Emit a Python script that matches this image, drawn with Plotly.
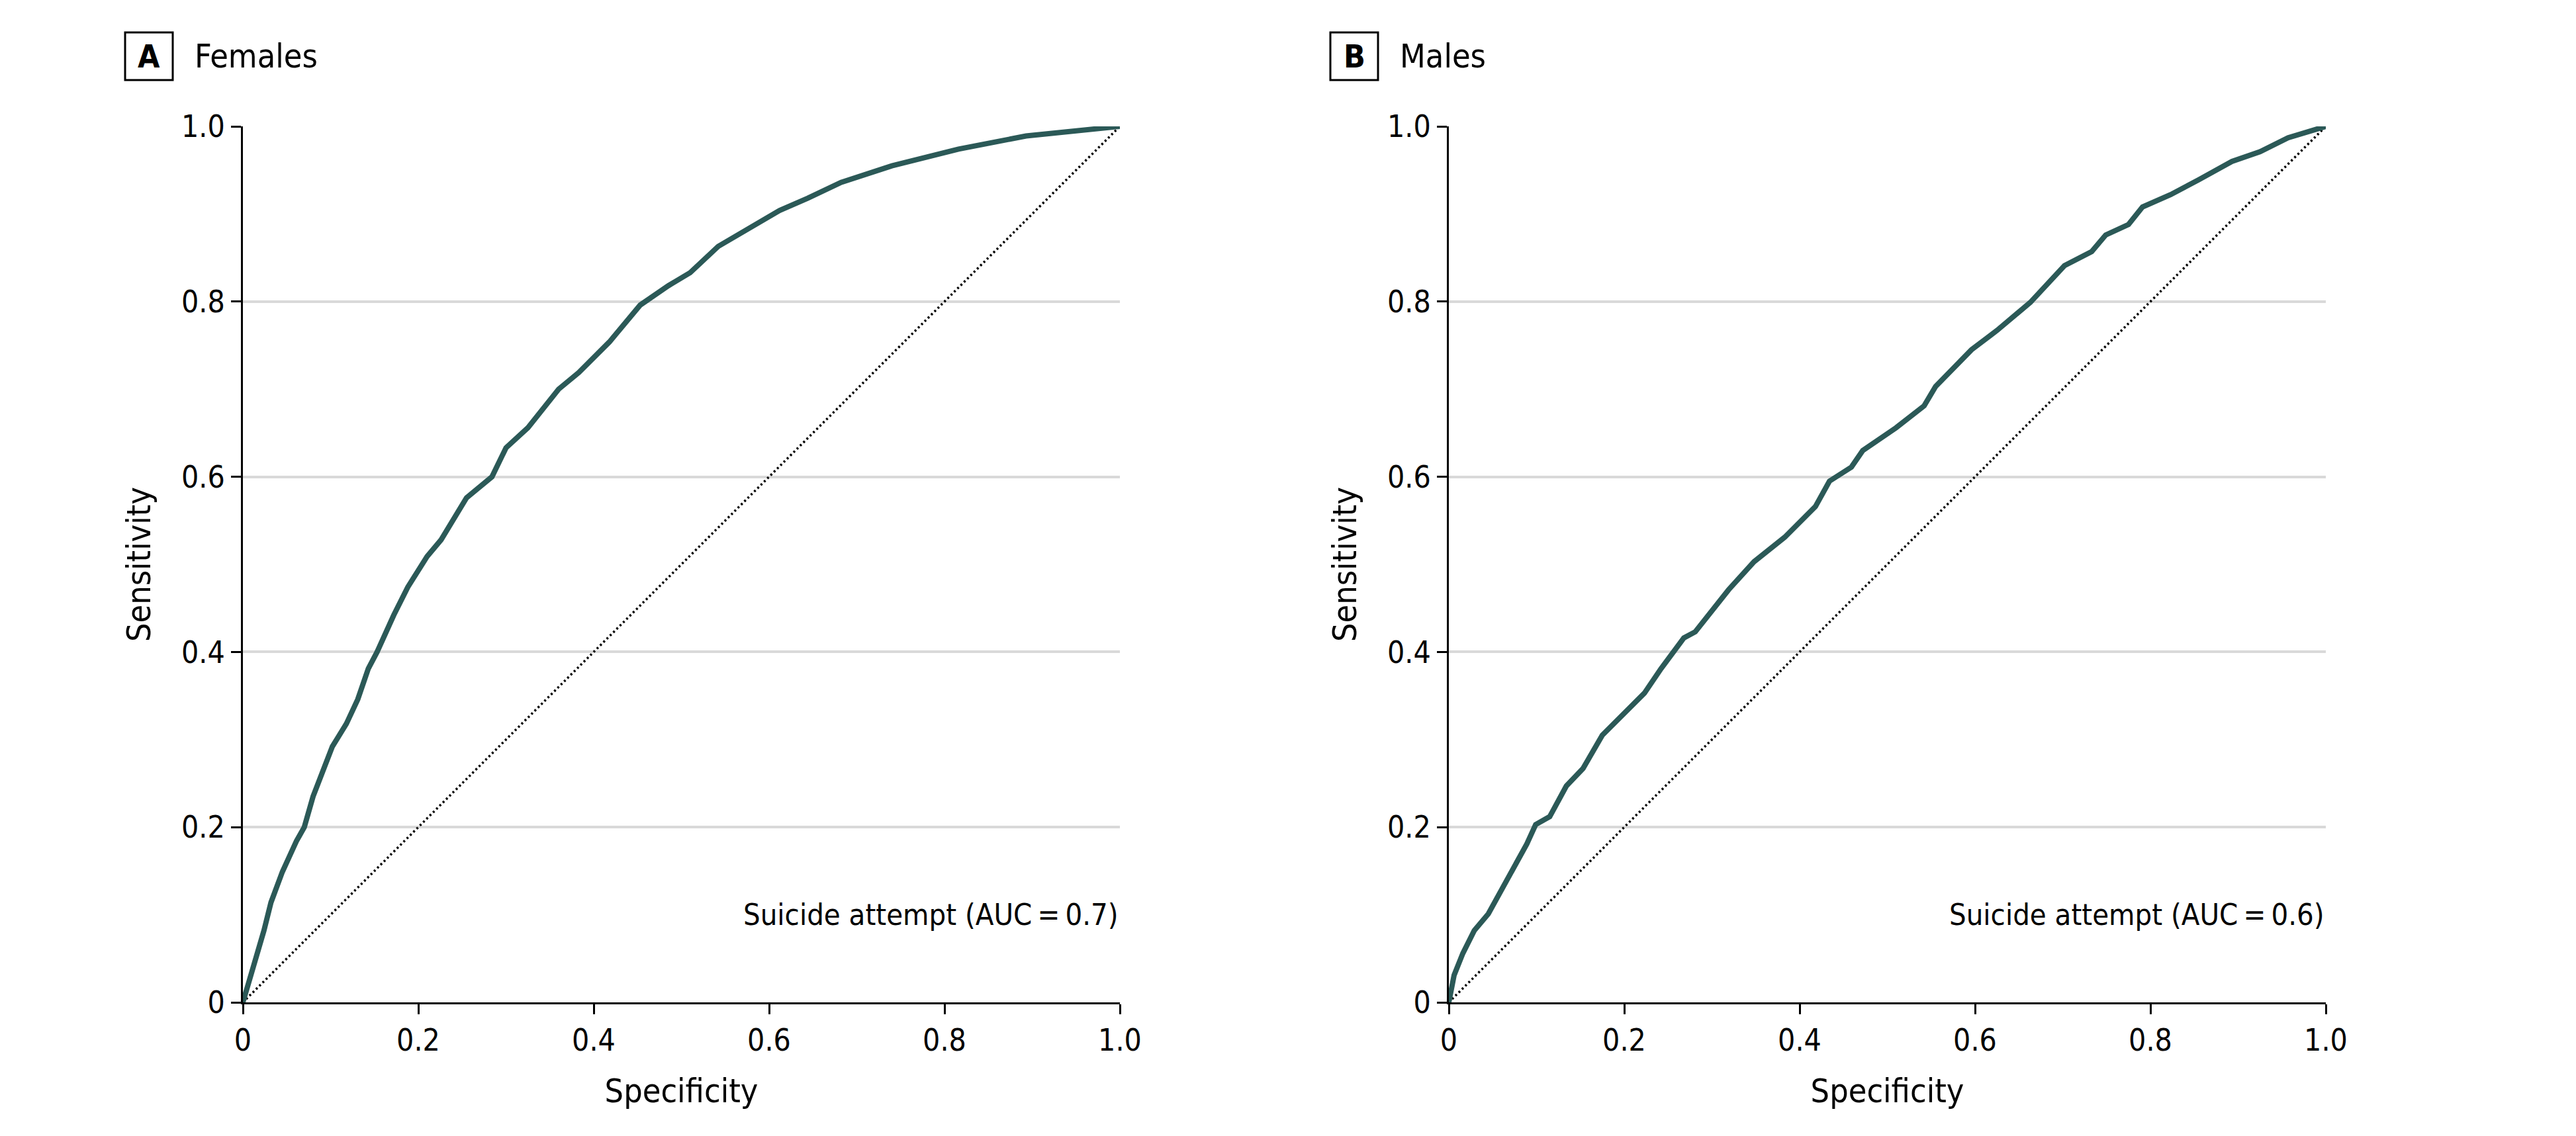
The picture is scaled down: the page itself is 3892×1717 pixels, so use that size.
import plotly.graph_objects as go

# ---- data ----
fem_spec = [0, 0.013, 0.024, 0.032, 0.045, 0.061, 0.070, 0.080, 0.089, 0.102, 0.118, 0.131, 0.143, 0.153,
            0.172, 0.188, 0.210, 0.226, 0.255, 0.284, 0.300, 0.325, 0.360, 0.383, 0.418, 0.453, 0.485,
            0.510, 0.542, 0.580, 0.612, 0.644, 0.682, 0.740, 0.816, 0.893, 0.957, 1.0]
fem_sens = [0, 0.043, 0.082, 0.114, 0.149, 0.184, 0.200, 0.235, 0.260, 0.292, 0.318, 0.346, 0.381, 0.400,
            0.442, 0.474, 0.509, 0.528, 0.576, 0.600, 0.633, 0.656, 0.700, 0.719, 0.754, 0.796, 0.818,
            0.833, 0.863, 0.885, 0.904, 0.918, 0.936, 0.955, 0.974, 0.989, 0.996, 1.0]

male_spec = [0, 0.006, 0.016, 0.029, 0.045, 0.061, 0.077, 0.089, 0.099, 0.115, 0.134, 0.153, 0.175, 0.204,
             0.223, 0.242, 0.268, 0.281, 0.300, 0.319, 0.348, 0.383, 0.418, 0.434, 0.459, 0.472, 0.510,
             0.542, 0.555, 0.587, 0.596, 0.625, 0.651, 0.663, 0.702, 0.733, 0.749, 0.775, 0.791, 0.823,
             0.855, 0.893, 0.925, 0.957, 1.0]
male_sens = [0, 0.031, 0.056, 0.082, 0.101, 0.129, 0.158, 0.181, 0.203, 0.212, 0.247, 0.267, 0.305, 0.334,
             0.353, 0.381, 0.416, 0.423, 0.448, 0.471, 0.503, 0.531, 0.566, 0.595, 0.611, 0.630, 0.656,
             0.681, 0.703, 0.735, 0.745, 0.767, 0.790, 0.799, 0.841, 0.857, 0.876, 0.888, 0.908, 0.922,
             0.939, 0.960, 0.971, 0.987, 1.0]

ref_line = [0, 1]
tick_vals = [0, 0.2, 0.4, 0.6, 0.8, 1.0]
tick_text = ["0", "0.2", "0.4", "0.6", "0.8", "1.0"]
panel_letters = ["A", "B"]
panel_titles = ["Females", "Males"]
auc_labels = ["Suicide attempt (AUC\u2009=\u20090.7)", "Suicide attempt (AUC\u2009=\u20090.6)"]

FONT = "DejaVu Sans Condensed, Roboto, sans-serif"
CURVE = "#2b5957"

W, H = 3892, 1717
ML, MR, MT, MB = 0, 0, 191, 202
PW = W - ML - MR
PH = H - MT - MB

domains = [[367 / W, 1692 / W], [2189 / W, 3514 / W]]

fig = go.Figure()
curves = [(fem_spec, fem_sens), (male_spec, male_sens)]
for i, (xs, ys) in enumerate(curves):
    xa = "x" if i == 0 else "x2"
    ya = "y" if i == 0 else "y2"
    fig.add_trace(go.Scatter(x=ref_line, y=ref_line, mode="lines", xaxis=xa, yaxis=ya,
                             line=dict(color="black", width=3.5, dash="3px,4px"), hoverinfo="skip"))
    fig.add_trace(go.Scatter(x=xs, y=ys, mode="lines", xaxis=xa, yaxis=ya,
                             line=dict(color=CURVE, width=8), hoverinfo="skip"))

axis_common = dict(range=[0, 1], tickvals=tick_vals, ticktext=tick_text, ticks="outside",
                   ticklen=15, tickwidth=3, tickcolor="black", showline=True, linecolor="black",
                   linewidth=3, zeroline=False, automargin=False,
                   tickfont=dict(family=FONT, size=46, color="black"),
                   title_font=dict(family=FONT, size=50, color="black"))

for i in range(2):
    sfx = "" if i == 0 else "2"
    fig.update_layout(**{
        "xaxis" + sfx: dict(axis_common, domain=domains[i], anchor="y" + sfx, showgrid=False,
                            title_text="Specificity", title_standoff=33),
        "yaxis" + sfx: dict(axis_common, domain=[0, 1], anchor="x" + sfx, showgrid=True,
                            gridcolor="#d9d9d9", gridwidth=4,
                            title_text="Sensitivity", title_standoff=31),
    })

# panel labels
box_x = [189, 2010]
text_x = [292, 2113]
for i in range(2):
    x0 = box_x[i] / W
    x1 = (box_x[i] + 72) / W
    y0 = 1 + (MT - 121) / PH
    y1 = 1 + (MT - 49) / PH
    fig.add_shape(type="rect", xref="paper", yref="paper", x0=x0, x1=x1, y0=y0, y1=y1,
                  line=dict(color="black", width=3))
    fig.add_annotation(xref="paper", yref="paper", x=(x0 + x1) / 2, y=(y0 + y1) / 2,
                       text="<b>" + panel_letters[i] + "</b>", showarrow=False,
                       xanchor="center", yanchor="middle",
                       font=dict(family=FONT, size=48, color="black"))
    fig.add_annotation(xref="paper", yref="paper", x=text_x[i] / W, y=(y0 + y1) / 2,
                       text=panel_titles[i], showarrow=False, xanchor="left", yanchor="middle",
                       font=dict(family=FONT, size=50, color="black"))
    fig.add_annotation(xref="x" if i == 0 else "x2", yref="y" if i == 0 else "y2",
                       x=1.0, y=0.1, text=auc_labels[i], showarrow=False,
                       xanchor="right", yanchor="middle",
                       font=dict(family=FONT, size=45, color="black"))

fig.update_layout(width=W, height=H, margin=dict(l=ML, r=MR, t=MT, b=MB, pad=0, autoexpand=False),
                  paper_bgcolor="white", plot_bgcolor="white", showlegend=False,
                  hovermode=False)

fig.write_html(
    "out.html",
    config={"displayModeBar": False, "responsive": False},
    post_script=(
        "document.body.style.margin='0';"
        "document.body.style.overflow='hidden';"
        "document.documentElement.style.overflow='hidden';"
    ),
)
